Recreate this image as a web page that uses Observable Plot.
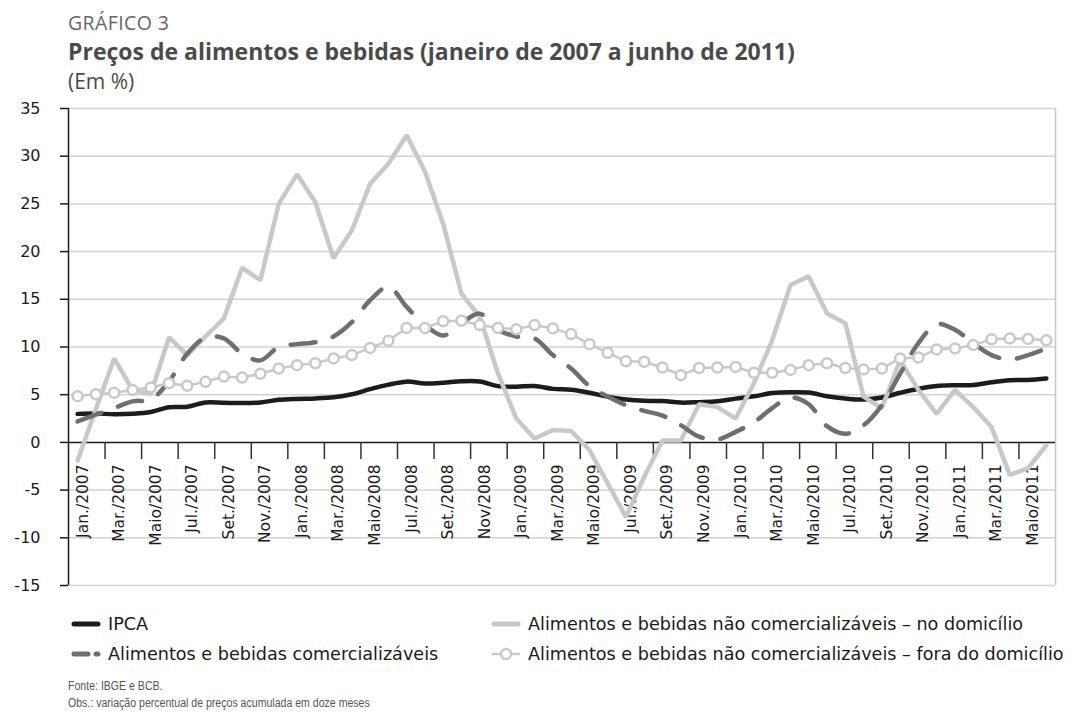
<!DOCTYPE html>
<html>
<head>
<meta charset="utf-8">
<script src="https://cdn.jsdelivr.net/npm/d3@7"></script>
<script src="https://cdn.jsdelivr.net/npm/@observablehq/plot@0.6"></script>
<style>
  html, body { margin: 0; padding: 0; background: #fff; }
  #wrap { position: relative; width: 1072px; height: 712px; overflow: hidden; background: #fff; }
  #head { position: absolute; left: 0; top: 0; }
  #chart { position: absolute; left: 0; top: 96px; }
  #foot { position: absolute; left: 0; top: 590px; }
  .hd { font-family: "Open Sans", "Noto Sans", sans-serif; }
  .lg { font-family: "DejaVu Sans", sans-serif; font-size: 17.6px; fill: #1a1a1a; }
  .ft { font-family: "Liberation Sans", sans-serif; font-size: 12.5px; fill: #555; }
</style>
</head>
<body>
<div id="wrap">
  <svg id="head" width="1072" height="96">
    <text class="hd" x="68" y="29.5" font-size="19.5" fill="#666" letter-spacing="0.4">GRÁFICO 3</text>
    <text class="hd" x="68" y="59.5" font-size="23" font-weight="bold" fill="#4a4a4a">Preços de alimentos e bebidas (janeiro de 2007 a junho de 2011)</text>
    <text class="hd" x="68" y="89" font-size="21" fill="#4a4a4a">(Em %)</text>
  </svg>
  <div id="chart"></div>
  <svg id="foot" width="1072" height="122"></svg>
</div>
<script>
const months = [
  "Jan./2007","Fev./2007","Mar./2007","Abr./2007","Maio/2007","Jun./2007","Jul./2007","Ago./2007","Set./2007","Out./2007","Nov./2007","Dez./2007",
  "Jan./2008","Fev./2008","Mar./2008","Abr./2008","Maio/2008","Jun./2008","Jul./2008","Ago./2008","Set./2008","Out./2008","Nov/2008","Dez./2008",
  "Jan./2009","Fev./2009","Mar./2009","Abr./2009","Maio/2009","Jun./2009","Jul./2009","Ago./2009","Set./2009","Out./2009","Nov./2009","Dez./2009",
  "Jan./2010","Fev./2010","Mar./2010","Abr./2010","Maio/2010","Jun./2010","Jul./2010","Ago./2010","Set./2010","Out./2010","Nov./2010","Dez./2010",
  "Jan./2011","Fev./2011","Mar./2011","Abr./2011","Maio/2011","Jun./2011"
];
const ipca = [2.99,3.02,2.96,3.00,3.18,3.69,3.74,4.18,4.15,4.12,4.19,4.46,
  4.56,4.61,4.73,5.04,5.58,6.06,6.37,6.17,6.25,6.41,6.39,5.90,
  5.84,5.90,5.61,5.53,5.20,4.80,4.50,4.36,4.34,4.17,4.22,4.31,
  4.59,4.83,5.17,5.26,5.22,4.84,4.60,4.49,4.70,5.20,5.63,5.91,
  5.99,6.01,6.30,6.51,6.55,6.71];
const comercializaveis = [2.2,2.9,3.6,4.3,4.5,6.4,9.3,11.0,10.9,9.3,8.6,10.0,
  10.3,10.5,11.1,12.6,14.9,16.3,14.2,12.3,11.2,12.5,13.5,11.8,
  11.1,10.9,9.15,7.75,5.9,4.8,3.9,3.3,2.8,1.8,0.6,0.3,
  1.1,2.1,3.6,4.7,4.0,1.7,0.9,1.8,3.9,7.2,10.4,12.4,
  11.8,10.4,9.15,8.7,9.15,9.85];
const noDomicilio = [-1.9,3.5,8.8,5.5,5.1,11.0,9.15,11.1,13.0,18.3,17.0,25.0,
  28.1,25.2,19.3,22.2,27.1,29.2,32.2,28.4,22.9,15.6,13.2,7.2,
  2.5,0.4,1.3,1.2,-0.8,-4.3,-7.8,-3.6,0.2,0.2,4.0,3.7,
  2.5,6.2,10.7,16.5,17.4,13.5,12.5,4.8,3.6,8.6,5.5,3.0,
  5.5,3.7,1.6,-3.4,-2.7,-0.3];
const foraDomicilio = [4.85,5.05,5.2,5.5,5.75,6.2,5.95,6.35,6.9,6.8,7.2,7.75,
  8.1,8.3,8.8,9.15,9.9,10.65,12.0,12.0,12.7,12.75,12.3,12.0,
  11.85,12.3,11.95,11.35,10.3,9.4,8.5,8.45,7.85,7.05,7.8,7.85,
  7.9,7.3,7.3,7.6,8.1,8.3,7.8,7.65,7.75,8.8,8.9,9.75,
  9.85,10.2,10.8,10.9,10.85,10.7];
const yTicks = [-15,-10,-5,0,5,10,15,20,25,30,35];
const seriesNames = [
  "IPCA",
  "Alimentos e bebidas não comercializáveis – no domicílio",
  "Alimentos e bebidas comercializáveis",
  "Alimentos e bebidas não comercializáveis – fora do domicílio"
];

const C_IPCA = "#1c1c1c", C_COM = "#6f6f6f", C_LIGHT = "#c8c8c8";

const data = months.map((m, i) => ({i, m, ipca: ipca[i], com: comercializaveis[i], nd: noDomicilio[i], fd: foraDomicilio[i]}));
const boundaries = d3.range(1.5, months.length - 1, 2);

const chart = Plot.plot({
  width: 1072,
  height: 494,
  marginLeft: 68,
  marginRight: 17,
  marginTop: 12,
  marginBottom: 5,
  x: {domain: [-0.5, months.length - 0.5], axis: null},
  y: {domain: [-15, 35], axis: null},
  style: {fontFamily: "DejaVu Sans", background: "white", overflow: "visible"},
  marks: [
    Plot.ruleY(yTicks.filter(v => v !== 0), {stroke: "#d2d2d2", strokeWidth: 1.5}),
    Plot.ruleX([months.length - 0.5], {stroke: "#c8c8c8", strokeWidth: 1.5}),
    Plot.axisY({ticks: yTicks, tickSize: 8, tickPadding: 20, fontSize: 16, color: "#1a1a1a", strokeWidth: 1.5, label: null, tickFormat: d => String(d)}),
    Plot.ruleX([-0.5], {stroke: "#1a1a1a", strokeWidth: 1.5}),
    Plot.ruleY([0], {stroke: "#1a1a1a", strokeWidth: 1.5}),
    Plot.ruleX(boundaries, {y1: 0, y2: -1.8, stroke: "#333", strokeWidth: 1.5}),
    Plot.text(data.filter(d => d.i % 2 === 0), {x: "i", y: () => 0, text: "m", rotate: -90, textAnchor: "end", dy: 22, dx: 5, fontSize: 15.5, fill: "#1a1a1a"}),
    Plot.line(data, {x: "i", y: "ipca", stroke: C_IPCA, strokeWidth: 4.5, curve: "catmull-rom"}),
    Plot.line(data, {x: "i", y: "nd", stroke: C_LIGHT, strokeWidth: 4.5, strokeLinejoin: "miter"}),
    Plot.line(data, {x: "i", y: "com", stroke: C_COM, strokeWidth: 4.5, strokeDasharray: "25,18", strokeLinecap: "round", curve: "catmull-rom"}),
    Plot.line(data, {x: "i", y: "fd", stroke: C_LIGHT, strokeWidth: 2.5}),
    Plot.dot(data, {x: "i", y: "fd", r: 5, stroke: C_LIGHT, strokeWidth: 2.5, fill: "white"})
  ]
});
document.getElementById("chart").appendChild(chart);

// legend + footer
const foot = d3.select("#foot");
const legendItems = [
  {name: seriesNames[0], col: 0, row: 0, type: "ipca"},
  {name: seriesNames[1], col: 1, row: 0, type: "nd"},
  {name: seriesNames[2], col: 0, row: 1, type: "com"},
  {name: seriesNames[3], col: 1, row: 1, type: "fd"}
];
const colX = [72, 492], rowY = [34, 64];
legendItems.forEach(it => {
  const x0 = colX[it.col], y = rowY[it.row];
  const g = foot.append("g");
  if (it.type === "ipca" || it.type === "nd") {
    g.append("line").attr("x1", x0 + 2).attr("x2", x0 + 26).attr("y1", y).attr("y2", y)
      .attr("stroke", it.type === "ipca" ? C_IPCA : C_LIGHT).attr("stroke-width", 5).attr("stroke-linecap", "round");
  } else if (it.type === "com") {
    g.append("line").attr("x1", x0 + 2).attr("x2", x0 + 16).attr("y1", y).attr("y2", y)
      .attr("stroke", C_COM).attr("stroke-width", 5).attr("stroke-linecap", "round");
    g.append("line").attr("x1", x0 + 24).attr("x2", x0 + 26).attr("y1", y).attr("y2", y)
      .attr("stroke", C_COM).attr("stroke-width", 5).attr("stroke-linecap", "round");
  } else {
    g.append("line").attr("x1", x0).attr("x2", x0 + 28).attr("y1", y).attr("y2", y)
      .attr("stroke", C_LIGHT).attr("stroke-width", 2.5);
    g.append("circle").attr("cx", x0 + 14).attr("cy", y).attr("r", 5)
      .attr("stroke", C_LIGHT).attr("stroke-width", 2.5).attr("fill", "white");
  }
  g.append("text").attr("class", "lg").attr("x", x0 + 36).attr("y", y + 6).text(it.name);
});
const footLines = ["Fonte: IBGE e BCB.", "Obs.: variação percentual de preços acumulada em doze meses"];
footLines.forEach((t, k) => {
  const el = foot.append("text").attr("class", "ft").attr("x", 68).attr("y", 100 + 17 * k).text(t);
  const w = el.node().getComputedTextLength();
  el.attr("textLength", w * 0.845).attr("lengthAdjust", "spacingAndGlyphs");
});
</script>
</body>
</html>
